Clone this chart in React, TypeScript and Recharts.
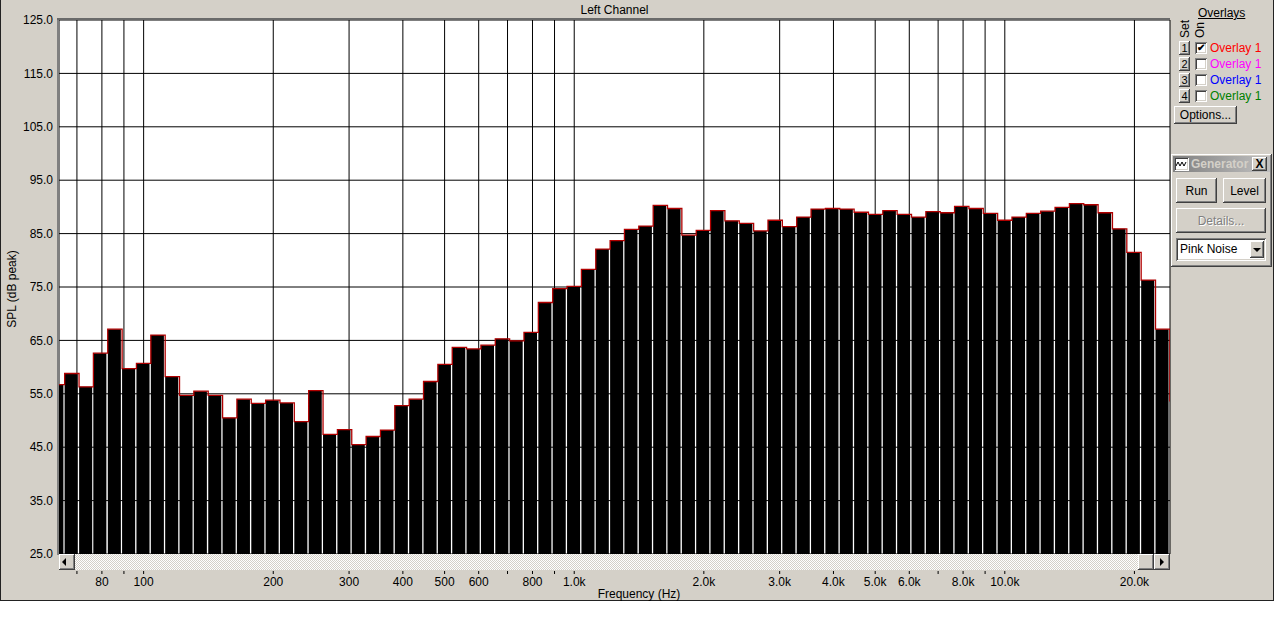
import React from 'react';
import {
  ComposedChart, XAxis, YAxis, CartesianGrid, ReferenceArea, Line,
} from 'recharts';

// band centre frequencies (Hz), 1/30 decade spacing
const FREQS = [
  63.1, 68.1, 73.6, 79.4, 85.8, 92.6, 100, 108, 116.6, 125.9, 135.9, 146.8,
  158.5, 171.1, 184.8, 199.5, 215.4, 232.6, 251.2, 271.2, 292.9, 316.2, 341.5,
  368.7, 398.1, 429.9, 464.2, 501.2, 541.2, 584.3, 631, 681.3, 735.6, 794.3,
  857.7, 926.1, 1000, 1080, 1166, 1259, 1359, 1468, 1585, 1711, 1848, 1995,
  2154, 2326, 2512, 2712, 2929, 3162, 3415, 3687, 3981, 4299, 4642, 5012, 5412,
  5843, 6310, 6813, 7356, 7943, 8577, 9261, 10000, 10798, 11659, 12589, 13594,
  14678, 15849, 17113, 18479, 19953, 21544, 23263, 25119,
];

// SPL (dB peak) per band
const SPL = [
  56.7, 58.8, 56.3, 62.6, 67.1, 59.7, 60.7, 66.0, 58.2, 54.7, 55.5, 54.7,
  50.5, 54.0, 53.2, 53.8, 53.3, 49.8, 55.6, 47.4, 48.3, 45.5, 47.0,
  48.2, 52.8, 54.0, 57.3, 60.5, 63.7, 63.4, 64.1, 65.3, 64.9, 66.5,
  72.1, 74.7, 75.1, 78.3, 82.1, 83.7, 85.8, 86.4, 90.3, 89.7, 84.7, 85.6,
  89.3, 87.4, 86.9, 85.5, 87.5, 86.3, 88.1, 89.6, 89.7, 89.6, 89.0, 88.6, 89.3,
  88.6, 88.1, 89.1, 88.9, 90.1, 89.7, 88.8, 87.5, 88.1, 88.8, 89.2, 89.9,
  90.6, 90.4, 88.9, 85.9, 81.5, 76.3, 67.1, 53.7,
];

const FREQ_TICKS = [
  70, 80, 90, 100, 200, 300, 400, 500, 600, 700, 800, 900,
  1000, 2000, 3000, 4000, 5000, 6000, 7000, 8000, 9000, 10000, 20000,
];
const FREQ_LABELS = [
  80, 100, 200, 300, 400, 500, 600, 800, 1000, 2000, 3000, 4000, 5000,
  6000, 8000, 10000, 20000,
];
const SPL_TICKS = [25, 35, 45, 55, 65, 75, 85, 95, 105, 115, 125];

const OVERLAYS = [
  { set: '1', label: 'Overlay 1', color: '#ff0000', on: true },
  { set: '2', label: 'Overlay 1', color: '#ff00ff', on: false },
  { set: '3', label: 'Overlay 1', color: '#0000ff', on: false },
  { set: '4', label: 'Overlay 1', color: '#008000', on: false },
];

const rows = FREQS.map((f, i) => ({ f, spl: SPL[i] }));

const LO = Math.pow(10, -1 / 60);
const HI = Math.pow(10, 1 / 60 - 0.003);

const FACE = '#d4d0c8';
const FONT = '"Liberation Sans", Arial, sans-serif';

const raised = {
  background: FACE,
  boxShadow: 'inset -1px -1px #404040, inset 1px 1px #ffffff, inset -2px -2px #808080, inset 2px 2px ' + FACE,
  boxSizing: 'border-box' as const,
};
const sunken = {
  background: '#fff',
  boxShadow: 'inset 1px 1px #808080, inset -1px -1px #ffffff, inset 2px 2px #404040, inset -2px -2px ' + FACE,
  boxSizing: 'border-box' as const,
};

function fmtFreq(v: number) {
  return v >= 1000 ? (v / 1000).toFixed(1) + 'k' : String(v);
}

function FreqTick(props: any) {
  const { x, y, payload } = props;
  const v = payload.value;
  return (
    <g>
      <line x1={x} x2={x} y1={y + 17} y2={y + 20} stroke="#000" />
      {FREQ_LABELS.includes(v) && (
        <text x={x} y={y + 32} textAnchor="middle" fontSize={12} fill="#000">
          {fmtFreq(v)}
        </text>
      )}
    </g>
  );
}

function Box(props: { l: number; t: number; w: number; h: number; style?: any; children?: any }) {
  return (
    <div
      style={{
        position: 'absolute', left: props.l, top: props.t, width: props.w, height: props.h,
        ...props.style,
      }}
    >
      {props.children}
    </div>
  );
}

function Button(props: { l: number; t: number; w: number; h: number; text: any; disabled?: boolean; fs?: number }) {
  return (
    <Box
      l={props.l} t={props.t} w={props.w} h={props.h}
      style={{
        ...raised, display: 'flex', alignItems: 'center', justifyContent: 'center',
        fontSize: props.fs ?? 12,
        color: props.disabled ? '#808080' : '#000',
        textShadow: props.disabled ? '1px 1px #fff' : 'none',
      }}
    >
      {props.text}
    </Box>
  );
}

function Arrow({ dir }: { dir: 'left' | 'right' | 'down' }) {
  const pts = dir === 'left' ? '6,4 2,8 6,12' : dir === 'right' ? '5,4 9,8 5,12' : '3,6 11,6 7,10';
  return (
    <svg width={14} height={16} viewBox="0 0 14 16">
      <polygon points={pts} fill="#000" />
    </svg>
  );
}

export default function App() {
  return (
    <div style={{ position: 'fixed', left: 0, top: 0, width: 1274, height: 637, background: '#fff', fontFamily: FONT, overflow: 'hidden' }}>
      {/* window */}
      <Box l={0} t={0} w={1274} h={601} style={{ background: FACE, borderLeft: '1px solid #222', borderRight: '1px solid #222', borderBottom: '1px solid #222', boxSizing: 'border-box' }} />

      <Box l={59} t={3} w={1111} h={14} style={{ textAlign: 'center', fontSize: 12, lineHeight: '14px' }}>
        Left Channel
      </Box>

      <div style={{ position: 'absolute', left: 0, top: 0 }}>
        <ComposedChart
          width={1274}
          height={600}
          data={rows}
          margin={{ top: 20, right: 104, bottom: 0, left: 0 }}
        >
          <CartesianGrid stroke="#000" fill="#fff" fillOpacity={1} strokeWidth={1} />
          <XAxis
            dataKey="f"
            type="number"
            scale="log"
            domain={[63.6, 24190]}
            allowDataOverflow
            ticks={FREQ_TICKS}
            interval={0}
            height={46}
            axisLine={false}
            tickLine={false}
            tickSize={0}
            tickMargin={0}
            tick={<FreqTick />}
          />
          <YAxis
            type="number"
            domain={[25, 125]}
            ticks={SPL_TICKS}
            interval={0}
            width={59}
            axisLine={false}
            tickLine={false}
            tickSize={0}
            tickMargin={6}
            tick={{ fill: '#000', fontSize: 12 }}
            tickFormatter={(v: number) => v.toFixed(1)}
          />
          {FREQS.map((f, i) => (
            <ReferenceArea
              key={f}
              x1={f * LO}
              x2={f * HI}
              y1={25}
              y2={SPL[i]}
              fill="#000"
              fillOpacity={1}
              stroke="none"
              ifOverflow="hidden"
            />
          ))}
          <Line
            type="step"
            dataKey="spl"
            stroke="#b00000"
            strokeWidth={1.3}
            dot={false}
            activeDot={false}
            isAnimationActive={false}
          />
        </ComposedChart>
      </div>

      {/* plot frame (sunken edge) */}
      <Box l={57} t={18} w={2} h={537} style={{ background: '#808080' }} />
      <Box l={57} t={18} w={1113} h={2} style={{ background: '#6a6a6a' }} />

      {/* y axis title */}
      <div
        style={{
          position: 'absolute', left: 12, top: 289, fontSize: 12, whiteSpace: 'nowrap',
          transform: 'translate(-50%, -50%) rotate(-90deg)',
        }}
      >
        SPL (dB peak)
      </div>

      {/* scrollbar */}
      <Box
        l={59} t={554} w={1111} h={16}
        style={{ background: 'repeating-conic-gradient(#d4d0c8 0% 25%, #ffffff 0% 50%) 0 0 / 2px 2px' }}
      />
      <Box l={59} t={554} w={16} h={16} style={{ ...raised, display: 'flex', alignItems: 'center', justifyContent: 'center' }}>
        <Arrow dir="left" />
      </Box>
      <Box l={1138} t={554} w={16} h={16} style={raised} />
      <Box l={1154} t={554} w={16} h={16} style={{ ...raised, display: 'flex', alignItems: 'center', justifyContent: 'center' }}>
        <Arrow dir="right" />
      </Box>

      <Box l={639 - 60} t={587} w={120} h={14} style={{ textAlign: 'center', fontSize: 12, lineHeight: '14px' }}>
        Frequency (Hz)
      </Box>

      {/* overlays panel */}
      <Box l={1198} t={6} w={60} h={14} style={{ fontSize: 12, lineHeight: '14px', textDecoration: 'underline' }}>
        Overlays
      </Box>
      <div style={{ position: 'absolute', left: 1185, top: 29, fontSize: 12, transform: 'translate(-50%, -50%) rotate(-90deg)' }}>Set</div>
      <div style={{ position: 'absolute', left: 1200, top: 30, fontSize: 12, transform: 'translate(-50%, -50%) rotate(-90deg)' }}>On</div>
      {OVERLAYS.map((o, i) => {
        const cy = 48 + i * 16;
        return (
          <React.Fragment key={o.set + o.color}>
            <Button l={1179} t={cy - 7} w={11} h={14} text={o.set} fs={11} />
            <Box l={1195} t={cy - 6} w={12} h={12} style={{ ...sunken, fontSize: 10, lineHeight: '12px', textAlign: 'center', fontWeight: 'bold' }}>
              {o.on ? '✔' : ''}
            </Box>
            <Box l={1210} t={cy - 7} w={60} h={14} style={{ fontSize: 12, lineHeight: '14px', color: o.color, whiteSpace: 'nowrap' }}>
              {o.label}
            </Box>
          </React.Fragment>
        );
      })}
      <Button l={1174} t={106} w={63} h={18} text="Options..." />

      {/* generator panel */}
      <Box l={1171} t={154} w={101} h={113} style={raised} />
      <Box l={1173} t={156} w={97} h={16} style={{ background: 'linear-gradient(90deg, #808080, #c0c0c0)' }} />
      <Box l={1174} t={157} w={15} h={14} style={{ ...sunken, display: 'flex', alignItems: 'center', justifyContent: 'center' }}>
        <svg width={11} height={8} viewBox="0 0 11 8">
          <polyline points="0,6 2,2 4,6 6,2 8,6 10,2" fill="none" stroke="#000" strokeWidth={1} />
        </svg>
      </Box>
      <Box l={1191} t={157} w={60} h={14} style={{ fontSize: 12, lineHeight: '14px', fontWeight: 'bold', color: FACE, whiteSpace: 'nowrap', overflow: 'hidden' }}>
        Generator
      </Box>
      <Button l={1252} t={157} w={15} h={14} text={<b>X</b>} fs={12} />
      <Button l={1176} t={178} w={41} h={25} text="Run" />
      <Button l={1223} t={178} w={43} h={25} text="Level" />
      <Button l={1176} t={208} w={90} h={25} text="Details..." disabled />
      <Box l={1176} t={238} w={90} h={23} style={{ ...sunken, fontSize: 12, lineHeight: '23px', paddingLeft: 4 }}>
        Pink Noise
      </Box>
      <Box l={1250} t={241} w={14} h={17} style={{ ...raised, display: 'flex', alignItems: 'center', justifyContent: 'center' }}>
        <Arrow dir="down" />
      </Box>
    </div>
  );
}
